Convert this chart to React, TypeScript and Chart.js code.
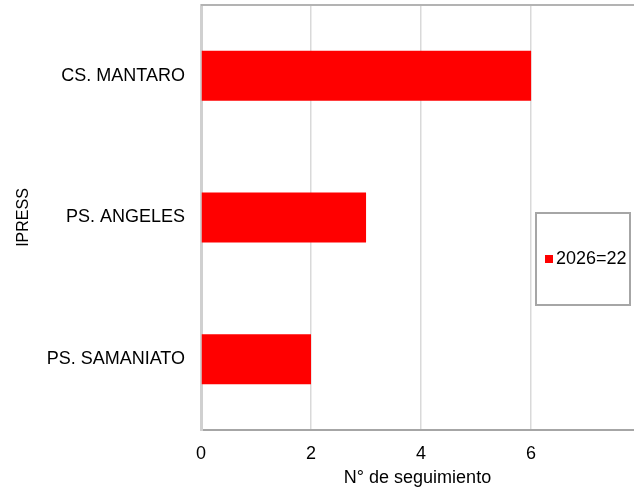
import React, { useEffect, useRef } from "react";
import { Chart, registerables } from "chart.js";

Chart.register(...registerables);

const categories = ["CS. MANTARO", "PS. ANGELES", "PS. SAMANIATO"];
const values = [6, 3, 2];
const seriesLabel = "2026=22";
const xTitle = "N° de seguimiento";
const yTitle = "IPRESS";
const xMax = 7.87;

const FONT = "'Liberation Sans', Arial, sans-serif";

const legendBox = {
  id: "legendBox",
  afterDraw(chart: any) {
    const ctx = chart.ctx;
    const ds = chart.data.datasets[0];
    ctx.save();
    ctx.fillStyle = "#ffffff";
    ctx.fillRect(536, 213, 94, 92);
    ctx.strokeStyle = "#a6a6a6";
    ctx.lineWidth = 2;
    ctx.strokeRect(536, 213, 94, 92);
    ctx.fillStyle = ds.backgroundColor;
    ctx.fillRect(545, 255, 8, 8);
    ctx.fillStyle = "#000000";
    ctx.font = `18px ${FONT}`;
    ctx.textBaseline = "middle";
    ctx.fillText(ds.label, 556, 259);
    ctx.restore();
  },
};

const topBorder = {
  id: "topBorder",
  afterDraw(chart: any) {
    const { ctx, chartArea } = chart;
    ctx.save();
    ctx.strokeStyle = "#b3b3b3";
    ctx.lineWidth = 2;
    ctx.beginPath();
    ctx.moveTo(chartArea.left, chartArea.top);
    ctx.lineTo(chartArea.right, chartArea.top);
    ctx.stroke();
    ctx.restore();
  },
};

export default function App() {
  const ref = useRef<HTMLCanvasElement>(null);
  useEffect(() => {
    if (!ref.current) return;
    const chart = new Chart(ref.current, {
      type: "bar",
      data: {
        labels: categories,
        datasets: [
          {
            label: seriesLabel,
            data: values,
            backgroundColor: "#ff0000",
            borderWidth: 0,
            barPercentage: 0.353,
            categoryPercentage: 1,
          },
        ],
      },
      options: {
        indexAxis: "y",
        animation: false,
        responsive: false,
        maintainAspectRatio: false,
        layout: { padding: { top: 5, right: 0, left: 0, bottom: 0 } },
        plugins: {
          legend: { display: false },
          tooltip: { enabled: false },
        },
        scales: {
          x: {
            min: 0,
            max: xMax,
            afterBuildTicks: (scale: any) => {
              scale.ticks = scale.ticks.filter((t: any) => t.value % 2 === 0);
            },
            afterFit: (scale: any) => {
              scale.height = 61;
              scale.paddingLeft = 0;
              scale.paddingRight = 0;
            },
            ticks: {
              stepSize: 2,
              padding: 13,
              color: "#000000",
              font: { family: FONT, size: 18 },
            },
            grid: { color: "#d9d9d9", lineWidth: 1.5, drawTicks: false },
            border: { color: "#a6a6a6", width: 2 },
            title: {
              display: true,
              text: xTitle,
              color: "#000000",
              font: { family: FONT, size: 18 },
              padding: { top: 0, bottom: 2 },
            },
          },
          y: {
            afterFit: (scale: any) => {
              scale.width = 201;
              scale.paddingTop = 0;
              scale.paddingBottom = 0;
            },
            ticks: {
              padding: 16,
              color: "#000000",
              font: { family: FONT, size: 18 },
            },
            grid: { display: false, drawTicks: false },
            border: { color: "#d0d0d0", width: 3 },
            title: {
              display: true,
              text: yTitle,
              color: "#000000",
              font: { family: FONT, size: 16 },
              padding: { top: 14, bottom: 0 },
            },
          },
        },
      },
      plugins: [topBorder, legendBox],
    });
    return () => chart.destroy();
  }, []);
  return (
    <div style={{ position: "fixed", left: 0, top: 0, width: 634, height: 491, background: "#fff" }}>
      <canvas ref={ref} width={634} height={491} style={{ width: 634, height: 491 }} />
    </div>
  );
}
